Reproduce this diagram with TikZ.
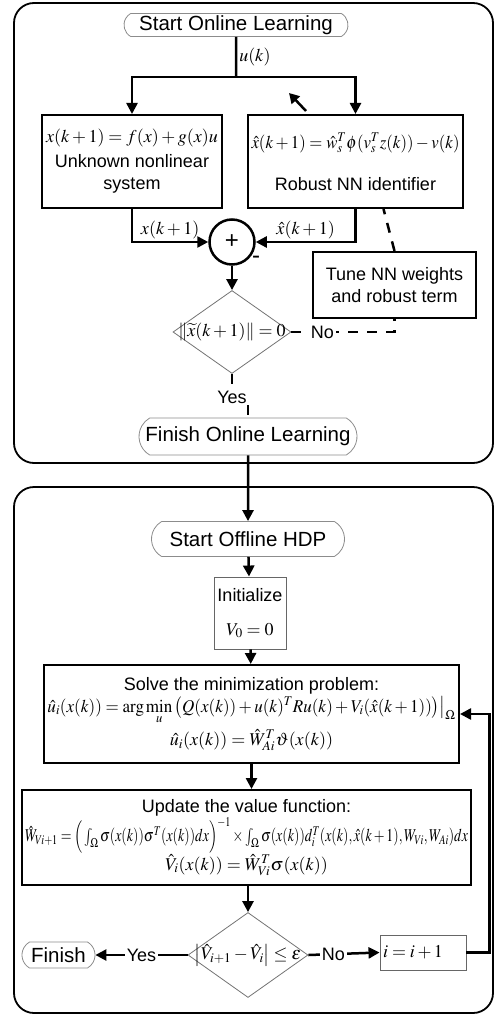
\documentclass[tikz,border=0pt]{standalone}
\usepackage{amsmath,amssymb}
\usepackage{mathptmx}
\usepackage[no-math]{fontspec}
\setmainfont{Liberation Sans}
\usepackage{graphicx}
\usepackage{tikz}
\usetikzlibrary{arrows.meta,shapes,positioning,calc}

\newcommand{\bodyfont}{\fontsize{18}{22}\selectfont}
\newcommand{\termfont}{\fontsize{20.5}{24}\selectfont}

\begin{document}
\begin{tikzpicture}[
    x=1pt, y=-1pt,
    frame/.style={draw, line width=1.8pt, rounded corners=20pt},
    term/.style={rounded rectangle, rounded rectangle arc length=120, draw=black!45, line width=0.8pt, inner sep=1pt, font=\termfont},
    block/.style={rectangle, draw, line width=2pt, align=center, inner sep=2pt, font=\bodyfont},
    thinblock/.style={block, draw=black!60, line width=0.9pt},
    decision/.style={diamond, draw=black!55, line width=0.8pt, inner sep=0pt, font=\bodyfont},
    junction/.style={circle, draw, line width=2.5pt, minimum size=45pt, inner sep=0pt, font=\bodyfont},
    flow/.style={-{Triangle[length=11pt,width=11pt]}, line width=2.5pt},
    link/.style={line width=2.5pt},
    dashlink/.style={line width=2.5pt, dash pattern=on 10pt off 9pt},
    tag/.style={font=\bodyfont, inner sep=2pt}
]
    \useasboundingbox (0,0) rectangle (495,1016);

    % online learning part
    \draw[frame] (14,3) rectangle (493,463);
    \node[term, minimum width=226pt, minimum height=23pt] (start1) at (236,25) {Start Online Learning};
    \coordinate (split) at (236,77);
    \node[block, minimum width=180pt, minimum height=93pt] (plant) at (132,161.5)
        {$x(k+1)=f(x)+g(x)u$\\[3pt] Unknown nonlinear\\ system};
    \node[block, minimum width=215pt, minimum height=93pt] (ident) at (355.5,161.5)
        {\resizebox{208pt}{\height}{$\hat{x}(k+1)=\hat{w}_s^T\phi(v_s^Tz(k))-v(k)$}\\[20pt] Robust NN identifier};
    \node[junction, label={[tag, label distance=-2pt]-35:{\fontsize{24}{24}\selectfont -}}] (sum) at (232,242) {\fontsize{24}{24}\selectfont +};
    \node[block, minimum width=163pt, minimum height=66pt] (tune) at (394.5,285) {Tune NN weights\\and robust term};
    \node[decision, minimum width=118pt, minimum height=83pt,
        label={[tag]center:$\|\widetilde{x}(k+1)\|=0$}] (dec1) at (232,332) {};
    \node[tag] (yes1) at (232,397) {Yes};
    \node[term, minimum width=220pt, minimum height=37pt] (fin1) at (248,436.5) {Finish Online Learning};

    \draw[link] (start1) -- node[tag, right]{$u(k)$} (split);
    \draw[flow] (split) -| (plant.north);
    \draw[flow] (split) -| (ident.north);
    \coordinate (cursor) at (306,111);
    \draw[-{Triangle[length=10pt,width=11pt]}, line width=2.5pt] (cursor) -- ++(-17,-18);
    \draw[flow] (plant.south) |- node[tag, above, pos=0.75]{$x(k+1)$} (sum.west);
    \draw[flow] (ident.south) |- node[tag, above, pos=0.75]{$\hat{x}(k+1)$} (sum.east);
    \draw[flow] (sum) -- (dec1);
    \draw[dashlink] (dec1.east) -- node[tag, fill=white, pos=0.3]{No} (dec1.east -| tune.south) -- (tune.south);
    \draw[dashlink] (tune.north) -- ([xshift=28pt]ident.south);
    \draw[dashlink] (dec1.south) -- (yes1);
    \draw[dashlink] (yes1.south -| fin1.north) -- (fin1.north);

    % offline HDP part
    \draw[frame] (14,487) rectangle (493,1013);
    \node[term, minimum width=195pt, minimum height=35pt] (start2) at (248,539) {Start Offline HDP};
    \node[thinblock, minimum width=72pt, minimum height=72pt] (init) at (250,613) {Initialize\\[12pt]$V_0=0$};
    \node[block, minimum width=415pt, minimum height=98pt] (solve) at (251.5,714)
        {Solve the minimization problem:\\[0pt]
         \resizebox{408pt}{\height}{$\hat{u}_i(x(k))=\arg\min\limits_u\big(Q(x(k))+u(k)^TRu(k)+V_i(\hat{x}(k+1))\big)\big|_\Omega$}\\[4pt]
         $\hat{u}_i(x(k))=\hat{W}_{Ai}^T\vartheta(x(k))$};
    \node[block, minimum width=449pt, minimum height=95pt] (update) at (246.5,837.5)
        {Update the value function:\\[0pt]
         \resizebox{443pt}{\height}{$\hat{W}_{Vi+1}=\Big(\int_\Omega\sigma(x(k))\sigma^T(x(k))dx\Big)^{-1}\times\int_\Omega\sigma(x(k))d_i^T(x(k),\hat{x}(k+1),W_{Vi},W_{Ai})dx$}\\[0pt]
         $\hat{V}_i(x(k))=\hat{W}_{Vi}^T\sigma(x(k))$};
    \node[decision, minimum width=120pt, minimum height=85pt,
        label={[tag]center:$\big|\hat{V}_{i+1}-\hat{V}_i\big|\le\varepsilon$}] (dec2) at (248,955) {};
    \node[term, minimum width=75pt, minimum height=26pt] (fin2) at (58.5,955) {Finish};
    \node[thinblock, text width=80pt, minimum height=35pt, align=left, inner sep=3pt] (inc) at (423,952.5) {$i=i+1$};

    \draw[flow] (fin1) -- (start2);
    \draw[flow] (start2) -- (init);
    \draw[flow] (init) -- (solve);
    \draw[flow] (solve.south) -- (solve.south |- update.north);
    \draw[flow] (update.south -| dec2.north) -- (dec2.north);
    \draw[flow] (dec2.west) -- node[tag, fill=white]{Yes} (fin2.east);
    \draw[flow] (dec2.east) -- node[tag, fill=white, pos=0.35]{No} (inc.west);
    \draw[flow] (inc.east) -- ++(23,0) |- (solve.east);
\end{tikzpicture}
\end{document}
